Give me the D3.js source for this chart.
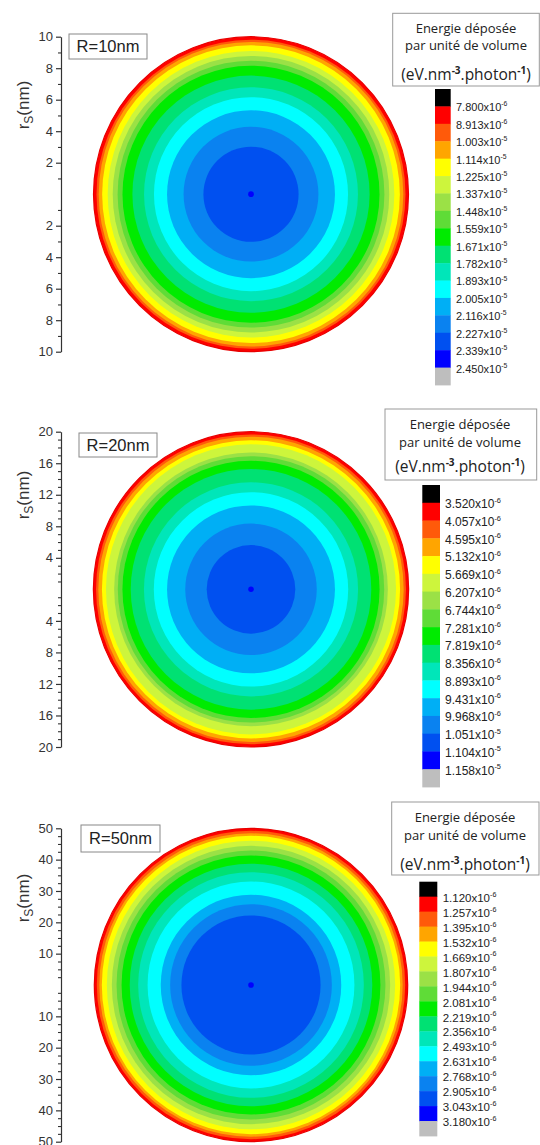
<!DOCTYPE html>
<html><head><meta charset="utf-8">
<script src="https://cdn.jsdelivr.net/npm/d3@7"></script>
<style>body{margin:0;background:#fff}</style>
</head><body><svg id="c" width="540" height="1145"></svg>
<script>
// ---------- data ----------
// colour of each contour band (from low to high energy): black (over), 15 levels, grey (under)
const bandColors = ["#000000","#FF0000","#FF5A0A","#FFA500","#FFFF00","#CDF53C","#9BE146","#5FDC37",
  "#00EB00","#00E173","#00E6B9","#00FFFF","#00AFF5","#0A82F0","#0050F0","#0000FF","#BEBEBE"];

// outer radius (nm) of the region of each band 1..15
const p1Radii = [10.0, 9.81, 9.67, 9.45, 9.10, 8.78, 8.47, 8.16, 7.53, 6.79, 6.16, 5.33, 4.28, 3.02, 0.18];
const p2Radii = [20.0, 19.66, 19.37, 18.91, 18.40, 17.36, 16.90, 16.31, 15.26, 13.58, 12.33, 10.65, 8.34, 5.62, 0.35];
const p3Radii = [50.0, 49.2, 48.4, 47.6, 46.0, 44.4, 42.9, 41.3, 38.7, 36.0, 33.0, 28.8, 25.8, 22.2, 0.9];

// colour-bar labels
const p1Mant = ["7.800","8.913","1.003","1.114","1.225","1.337","1.448","1.559","1.671","1.782","1.893","2.005","2.116","2.227","2.339","2.450"];
const p1Exp  = [-6,-6,-5,-5,-5,-5,-5,-5,-5,-5,-5,-5,-5,-5,-5,-5];
const p2Mant = ["3.520","4.057","4.595","5.132","5.669","6.207","6.744","7.281","7.819","8.356","8.893","9.431","9.968","1.051","1.104","1.158"];
const p2Exp  = [-6,-6,-6,-6,-6,-6,-6,-6,-6,-6,-6,-6,-6,-5,-5,-5];
const p3Mant = ["1.120","1.257","1.395","1.532","1.669","1.807","1.944","2.081","2.219","2.356","2.493","2.631","2.768","2.905","3.043","3.180"];
const p3Exp  = [-6,-6,-6,-6,-6,-6,-6,-6,-6,-6,-6,-6,-6,-6,-6,-6];

// axis ticks (nm)
const p1Major = [10,8,6,4,2,-2,-4,-6,-8,-10];
const p1Minor = [9,7,5,3,1,-1,-3,-5,-7,-9];
const p2Major = [20,16,12,8,4,-4,-8,-12,-16,-20];
const p2Minor = [19,18,17,15,14,13,11,10,9,7,6,5,3,2,1,-1,-2,-3,-5,-6,-7,-9,-10,-11,-13,-14,-15,-17,-18,-19];
const p3Major = [50,40,30,20,10,-10,-20,-30,-40,-50];
const p3Minor = [47.5,45,42.5,37.5,35,32.5,27.5,25,22.5,17.5,15,12.5,7.5,5,2.5,-2.5,-5,-7.5,-12.5,-15,-17.5,-22.5,-25,-27.5,-32.5,-35,-37.5,-42.5,-45,-47.5];

const titleLines = ["Energie déposée", "par unité de volume"];
const panelLabels = ["R=10nm","R=20nm","R=50nm"];

// ---------- layout ----------
const panels = [
  {R:10, radii:p1Radii, major:p1Major, minor:p1Minor, mant:p1Mant, exp:p1Exp, label:panelLabels[0],
   top:36.7, bot:351.7, cx:251, axisX:61, ytitle:105,
   box:[69,34,78,25],
   leg:{box:[392.7,13.3,146.6,72.7], tx:466, ly:[28.5,45.5,75], cbx:435, cbw:15.7, cbt:89, cbb:385, lx:456, fs:11}},
  {R:20, radii:p2Radii, major:p2Major, minor:p2Minor, mant:p2Mant, exp:p2Exp, label:panelLabels[1],
   top:431.7, bot:747, cx:251, axisX:61, ytitle:495,
   box:[79,433,78,24],
   leg:{box:[385,409,151.7,71], tx:460, ly:[424.5,442,466.7], cbx:422.3, cbw:17.7, cbt:485, cbb:787, lx:445, fs:12}},
  {R:50, radii:p3Radii, major:p3Major, minor:p3Minor, mant:p3Mant, exp:p3Exp, label:panelLabels[2],
   top:828.3, bot:1141.7, cx:251, axisX:61, ytitle:898,
   box:[81,825,79,27],
   leg:{box:[391.7,802,147.3,73], tx:465, ly:[817.5,835.5,865], cbx:419.3, cbw:18, cbt:881.7, cbb:1136, lx:442.7, fs:11.5}}
];

const svg = d3.select("#c");
svg.append("rect").attr("width",540).attr("height",1145).attr("fill","#fff");

panels.forEach(p => {
  const g = svg.append("g");
  const y = d3.scaleLinear().domain([p.R, -p.R]).range([p.top, p.bot]);
  const cy = y(0);
  const half = (p.bot - p.top) / 2;
  const x = d3.scaleLinear().domain([-p.R, p.R]).range([p.cx - half, p.cx + half]);
  const rpx = v => x(v) - x(0);

  // contour bands (largest first)
  g.selectAll("circle.band").data(p.radii).join("circle")
    .attr("class","band")
    .attr("cx", x(0)).attr("cy", cy)
    .attr("r", d => rpx(d))
    .attr("fill", (d,i) => bandColors[i+1])
    .attr("stroke", (d,i) => i===0 ? "#E80000" : "none")
    .attr("stroke-width", 1.2);

  // axis
  const ax = g.append("g").attr("transform",`translate(${p.axisX},0)`)
    .call(d3.axisLeft(y).tickValues(p.major).tickFormat(d=>Math.abs(d)).tickSize(5).tickSizeOuter(0).tickPadding(3));
  ax.select(".domain").attr("stroke","#333").attr("stroke-width",1.2);
  ax.selectAll(".tick line").attr("stroke","#333").attr("stroke-width",1.2);
  ax.selectAll(".tick text").attr("font-family","Liberation Sans, Arial, sans-serif").attr("font-size",13).attr("fill","#333");
  const mx = g.append("g").attr("transform",`translate(${p.axisX},0)`)
    .call(d3.axisLeft(y).tickValues(p.minor).tickFormat("").tickSize(3).tickSizeOuter(0));
  mx.select(".domain").remove();
  mx.selectAll(".tick line").attr("stroke","#333").attr("stroke-width",1.1);

  // y title
  const yt = g.append("text").attr("transform",`translate(29,${p.ytitle}) rotate(-90)`)
    .attr("text-anchor","middle").attr("font-family","Liberation Sans, Arial, sans-serif")
    .attr("font-size",17).attr("fill","#333");
  yt.append("tspan").text("r");
  yt.append("tspan").attr("font-size",12).attr("dy",4).text("S");
  yt.append("tspan").attr("dy",-4).text("(nm)");

  // R label box
  g.append("rect").attr("x",p.box[0]).attr("y",p.box[1]).attr("width",p.box[2]).attr("height",p.box[3])
    .attr("fill","#fff").attr("stroke","#888").attr("stroke-width",1);
  g.append("text").attr("x",p.box[0]+p.box[2]/2).attr("y",p.box[1]+p.box[3]/2).attr("dy","0.36em")
    .attr("text-anchor","middle").attr("font-family","Liberation Sans, Arial, sans-serif")
    .attr("font-size",16.5).attr("fill","#222").text(p.label);

  // legend box
  const L = p.leg;
  g.append("rect").attr("x",L.box[0]).attr("y",L.box[1]).attr("width",L.box[2]).attr("height",L.box[3])
    .attr("fill","#fff").attr("stroke","#999").attr("stroke-width",1);
  titleLines.forEach((t,i) => {
    g.append("text").attr("x",L.tx).attr("y",L.ly[i]).attr("dy","0.35em").attr("text-anchor","middle")
      .attr("font-family","Open Sans, sans-serif").attr("font-size",13).attr("fill","#222").text(t);
  });
  const u = g.append("text").attr("x",L.tx).attr("y",L.ly[2]).attr("dy","0.35em").attr("text-anchor","middle")
    .attr("font-family","Open Sans, sans-serif").attr("font-size",15.5).attr("fill","#222");
  u.append("tspan").text("(eV.nm");
  u.append("tspan").attr("font-size",10).attr("font-weight","bold").attr("dy",-6).text("-3");
  u.append("tspan").attr("dy",6).text(".photon");
  u.append("tspan").attr("font-size",10).attr("font-weight","bold").attr("dy",-6).text("-1");
  u.append("tspan").attr("dy",6).text(")");

  // colour bar
  const cb = d3.scaleBand().domain(d3.range(bandColors.length)).range([L.cbt, L.cbb]).paddingInner(0);
  g.selectAll("rect.cb").data(bandColors).join("rect").attr("class","cb")
    .attr("x",L.cbx).attr("width",L.cbw)
    .attr("y",(d,i)=>cb(i)).attr("height",cb.bandwidth()+0.4)
    .attr("fill",d=>d);
  p.mant.forEach((m,i) => {
    const t = g.append("text").attr("x",L.lx).attr("y",cb(i+1)).attr("dy","0.45em")
      .attr("font-family","Liberation Sans, Arial, sans-serif").attr("font-size",L.fs).attr("fill","#222");
    t.append("tspan").text(m + "x10");
    t.append("tspan").attr("font-size",L.fs*0.62).attr("dy",-L.fs*0.45).text(p.exp[i]);
  });
});
</script></body></html>
